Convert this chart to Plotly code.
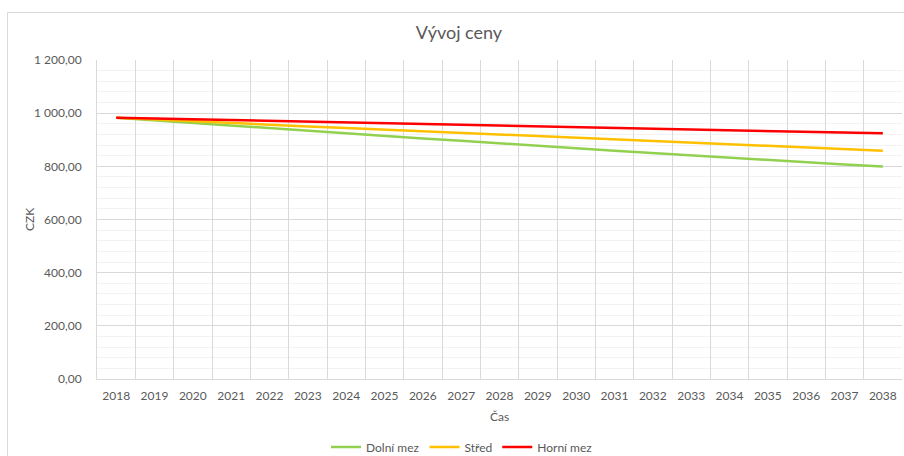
import plotly.graph_objects as go

years = [str(y) for y in range(2018, 2039)]
dolni_mez = [983, 973, 963, 953, 943, 933, 924, 914, 905, 896, 886,
             877, 868, 859, 850, 842, 833, 824, 816, 807, 799]
stred = [983, 976, 970, 963, 957, 950, 944, 938, 931, 925, 919,
         913, 907, 901, 895, 889, 883, 877, 871, 865, 859]
horni_mez = [983, 980, 977, 974, 971, 968, 965, 962, 959, 956, 953,
             950, 947, 944, 941, 938, 935, 932, 929, 927, 924]
y_tickvals = [0, 200, 400, 600, 800, 1000, 1200]
y_ticktext = ["0,00", "200,00", "400,00", "600,00", "800,00", "1 000,00", "1 200,00"]

W, H = 904, 456
L, R, T, B = 97, 2, 60, 77
pw, ph = W - L - R, H - T - B

FONT = "Lato, 'Open Sans', sans-serif"
GRAY = "#595959"

fig = go.Figure()
fig.add_trace(go.Scatter(x=years, y=dolni_mez, name="Dolní mez", mode="lines",
                         line=dict(color="#92D050", width=2.5)))
fig.add_trace(go.Scatter(x=years, y=stred, name="Střed", mode="lines",
                         line=dict(color="#FFC000", width=2.5)))
fig.add_trace(go.Scatter(x=years, y=horni_mez, name="Horní mez", mode="lines",
                         line=dict(color="#FF0000", width=2.5)))

def px_to_paper_x(px):
    return (px - L) / pw

def px_to_paper_y(py):
    return (H - B - py) / ph

fig.update_layout(
    width=W, height=H,
    margin=dict(l=L, r=R, t=T, b=B, autoexpand=False),
    paper_bgcolor="white", plot_bgcolor="white",
    font=dict(family=FONT, color=GRAY, size=12),
    title=dict(text="Vývoj ceny", x=459 / W, xanchor="center",
               y=1 - 33 / H, yanchor="middle",
               font=dict(size=18, color=GRAY, family=FONT)),
    xaxis=dict(type="category", tickson="boundaries", showgrid=True,
               gridcolor="#d9d9d9", gridwidth=1, ticks="",
               showline=True, linecolor="#d9d9d9", linewidth=1,
               tickfont=dict(size=12, color=GRAY), automargin=False,
               ticklabelstandoff=6,
               range=[-0.5, 20.5], zeroline=False),
    yaxis=dict(range=[0, 1200], tickvals=y_tickvals, ticktext=y_ticktext,
               showgrid=True, gridcolor="#d9d9d9", gridwidth=1,
               minor=dict(dtick=40, showgrid=True, gridcolor="#f2f2f2", gridwidth=1),
               showline=True, linecolor="#d9d9d9", linewidth=1,
               ticks="", ticklabelstandoff=12, automargin=False,
               tickfont=dict(size=12, color=GRAY), zeroline=False),
    legend=dict(orientation="h", x=px_to_paper_x(462), xanchor="center",
                y=px_to_paper_y(447), yanchor="middle",
                font=dict(size=12, color=GRAY), itemwidth=30,
                bgcolor="rgba(0,0,0,0)"),
    showlegend=True,
    annotations=[
        dict(text="CZK", xref="paper", yref="paper",
             x=px_to_paper_x(30), y=px_to_paper_y(220), textangle=-90,
             showarrow=False, xanchor="center", yanchor="middle",
             font=dict(size=12, color=GRAY)),
        dict(text="Čas", xref="paper", yref="paper",
             x=px_to_paper_x(499), y=px_to_paper_y(416),
             showarrow=False, xanchor="center", yanchor="middle",
             font=dict(size=12, color=GRAY)),
    ],
)

# outer chart border
fig.add_shape(type="rect", xref="paper", yref="paper",
              x0=px_to_paper_x(7.5), x1=px_to_paper_x(930),
              y0=px_to_paper_y(470), y1=px_to_paper_y(12.5),
              line=dict(color="#d9d9d9", width=1), layer="below")

fig.write_html("out.html", config={"displayModeBar": False},
               post_script="document.body.style.margin='0';document.body.style.overflow='hidden';")
